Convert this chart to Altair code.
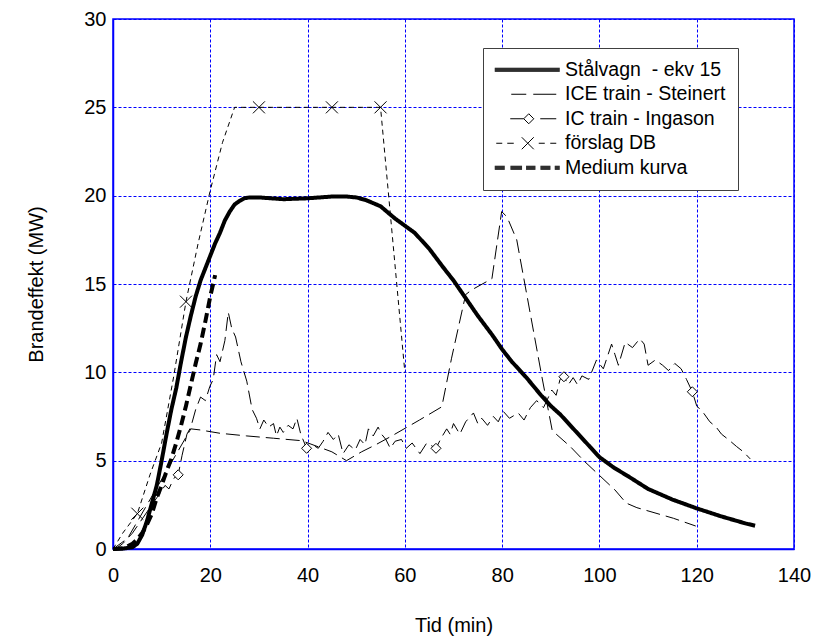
import altair as alt
import pandas as pd

# ---------------- data ----------------
series_names = ["Stålvagn\u00a0 - ekv 15", "ICE train - Steinert", "IC train - Ingason",
                "förslag DB", "Medium kurva"]

steel_t = [0, 2, 4, 5, 6, 7, 8, 9, 10, 11, 12, 13, 14, 15, 16, 17, 18, 19, 20, 21, 22, 23, 24,
           25, 26, 27, 28, 30, 35, 40, 45, 48, 50, 52, 55, 58, 60, 62, 65, 68, 70, 72, 75, 78,
           80, 82, 85, 88, 90, 92, 95, 98, 100, 103, 106, 110, 115, 120, 125, 130, 132]
steel_mw = [0, 0.02, 0.1, 0.3, 0.8, 1.6, 2.6, 3.6, 5.0, 6.5, 7.9, 9.1, 10.6, 12.0, 13.2, 14.3,
            15.2, 15.9, 16.6, 17.3, 17.9, 18.6, 19.1, 19.5, 19.7, 19.85, 19.9, 19.9, 19.8,
            19.85, 19.95, 19.95, 19.9, 19.75, 19.4, 18.7, 18.3, 17.9, 17.0, 15.9, 15.2, 14.4,
            13.2, 12.1, 11.3, 10.6, 9.7, 8.7, 8.1, 7.6, 6.7, 5.8, 5.2, 4.6, 4.1, 3.4, 2.8, 2.3,
            1.85, 1.45, 1.32]

ice_t = [0, 3, 16, 17.9, 22, 27.5, 33, 38.8, 45, 48, 51.1, 54, 57, 63, 67.6, 69.6, 72.5, 73.7,
         77.9, 79.9, 81, 83, 88.1, 90.3, 94, 97, 103.2, 105.5, 107.7, 115.2, 119.8]
ice_mw = [0, 0.6, 6.8, 6.74, 6.55, 6.4, 6.27, 6.13, 5.5, 5.0, 5.5, 5.9, 6.35, 7.3, 8.05, 10.8,
          14.4, 14.66, 15.3, 19.1, 18.8, 17.5, 9.85, 6.7, 5.8, 4.94, 3.34, 2.6, 2.34, 1.74, 1.3]

ic_t = [0, 1, 2, 3, 4, 5, 6, 7, 8, 9, 10, 10.7, 11.5, 12.5, 13.4, 14.2, 15.2, 16, 17, 18, 19,
        19.9, 20.6, 21.3, 22, 23, 23.7, 24.4, 25.2, 26.3, 27.5, 28.6, 29.5, 30.2, 31, 32, 33,
        33.6, 34.3, 35, 36, 37, 37.8, 38.6, 39.8, 41, 42.2, 43.2, 44.2, 45.3, 46.3, 47.3, 48.5,
        49.8, 50.8, 51.8, 52.5, 53.5, 54.5, 55.2, 56.1, 57, 58, 59.3, 60.3, 61.5, 63.1, 64.5,
        66.4, 67.5, 68.6, 69.3, 70, 71.3, 72.5, 74.1, 75, 75.8, 77, 78.2, 79.2, 80.2, 81.5,
        83.3, 84.5, 85.8, 87.1, 88.5, 90.2, 91.1, 91.9, 92.7, 93.6, 94.6, 95.5, 96.4, 97.8,
        99.4, 100.8, 102.5, 103.2, 103.9, 105.3, 106.8, 108.3, 109.2, 110, 111.5, 113, 114.2,
        115.5, 116.8, 117.9, 119.1, 120, 121.4, 122.7, 124, 125.1, 126.5, 128.2, 129.6, 131]
ic_mw = [0, 0.1, 0.3, 0.6, 0.9, 1.3, 1.7, 2.1, 2.5, 2.9, 3.3, 3.6, 3.4, 4.0, 4.2, 5.3, 6.5,
         6.9, 7.9, 8.6, 8.4, 9.2, 9.6, 11.0, 10.6, 11.8, 13.4, 12.5, 12.0, 10.6, 9.5, 7.9, 7.4,
         6.8, 7.3, 6.9, 7.1, 6.4, 6.9, 6.6, 7.0, 6.8, 7.4, 6.5, 5.7, 5.9, 5.7, 6.1, 6.6, 6.2,
         6.5, 5.4, 5.9, 5.6, 6.2, 5.9, 6.8, 6.4, 6.9, 6.5, 6.2, 5.7, 6.1, 6.2, 5.7, 6.0, 5.4,
         6.0, 5.7, 6.3, 6.8, 6.5, 7.1, 6.5, 7.2, 7.7, 7.1, 7.4, 7.0, 7.5, 7.2, 7.8, 7.4, 7.7,
         7.3, 8.0, 8.4, 8.0, 9.0, 8.7, 9.6, 9.75, 9.3, 9.7, 9.3, 9.8, 9.6, 10.7, 10.2, 11.6,
         11.0, 10.4, 11.7, 11.4, 11.9, 11.6, 10.4, 10.7, 10.4, 10.1, 10.5, 10.2, 9.6, 8.9, 8.1,
         7.7, 7.2, 6.9, 6.5, 6.2, 5.8, 5.5, 5.1]

db_t = [0, 2, 5, 7.6, 10, 12.5, 15, 17.5, 20, 22.5, 25, 30, 45, 55, 60]
db_mw = [0, 0.9, 2.0, 4.2, 6.0, 9.8, 14.0, 17.3, 20.3, 23.0, 25.0, 25, 25, 25, 10]

medium_t = [0, 1, 2, 3, 4, 5, 6, 7, 8, 9, 10, 11, 12, 13, 14, 15, 16, 17, 18, 19, 20, 21]
medium_mw = [0, 0.01, 0.05, 0.15, 0.3, 0.55, 0.9, 1.4, 2.0, 2.9, 3.6, 4.4, 5.1, 6.0, 7.0, 8.1,
             9.3, 10.5, 11.6, 12.9, 14.3, 15.5]

ic_mark_t = [13.4, 39.8, 66.4, 92.7, 119.1]
ic_mark_mw = [4.2, 5.7, 5.7, 9.75, 8.9]
db_mark_t = [5, 15, 30, 45, 55]
db_mark_mw = [2.0, 14.0, 25.0, 25.0, 25.0]

x_ticks = [0, 20, 40, 60, 80, 100, 120, 140]
y_ticks = [0, 5, 10, 15, 20, 25, 30]

# ---------------- tables ----------------
rows = []
for name, ts, vs in zip(series_names,
                        [steel_t, ice_t, ic_t, db_t, medium_t],
                        [steel_mw, ice_mw, ic_mw, db_mw, medium_mw]):
    for t, v in zip(ts, vs):
        rows.append({"t": t, "mw": v, "series": name})
lines_df = pd.DataFrame(rows)

ic_marks_df = pd.DataFrame({"t": ic_mark_t, "mw": ic_mark_mw})
db_marks_df = pd.DataFrame({"t": db_mark_t, "mw": db_mark_mw})
legend_df = pd.DataFrame({"series": series_names})


# ---------------- legend key glyphs (pixel-unit SVG paths) ----------------
def seg(x1, x2, thick=False):
    ys = [-1.5, -0.5, 0.5, 1.5] if thick else [0]
    return "".join(f"M{x1},{y}H{x2}" for y in ys)


key_steel = seg(-32.5, 32.5, True)
key_ice = seg(-16, -1) + seg(6, 29)
key_ic = seg(-17, -3.5) + "M1.5,-5L6.5,0L1.5,5L-3.5,0Z" + seg(13, 29)
key_db = (seg(-31, -25) + seg(-20, -13.5) + "M-5.5,-6L6.5,6M6.5,-6L-5.5,6"
          + seg(11.5, 17.5) + seg(23, 29))
key_medium = (seg(-32.5, -22.5, True) + seg(-16.8, -5.2, True) + seg(-1.2, 8.2, True)
              + seg(13.2, 23.2, True) + seg(27.5, 32.5, True))

FONT = "Liberation Sans"

x_enc = alt.X("t:Q", scale=alt.Scale(domain=[0, 140], nice=False),
              axis=alt.Axis(values=x_ticks, title="Tid (min)", labelPadding=16,
                            titlePadding=30, grid=True, labelFlush=False))
y_enc = alt.Y("mw:Q", scale=alt.Scale(domain=[0, 30], nice=False),
              axis=alt.Axis(values=y_ticks, title="Brandeffekt (MW)", labelPadding=7,
                            titlePadding=37, grid=True, labelFlush=False))

base = alt.Chart(lines_df)


def line_layer(names, dash, width):
    return base.mark_line(color="black", strokeCap="butt", strokeDash=dash,
                          strokeWidth=width).encode(
        x=x_enc, y=y_enc, detail="series:N"
    ).transform_filter(alt.FieldOneOfPredicate(field="series", oneOf=names))


steel_line = line_layer([series_names[0]], [1, 0], 4)
ice_ic_lines = line_layer([series_names[1], series_names[2]], [14, 6], 1)
db_line = line_layer([series_names[3]], [5, 4], 1)
medium_line = line_layer([series_names[4]], [10, 5], 4)

ic_pts = alt.Chart(ic_marks_df).mark_point(shape="diamond", filled=True, fill="white",
                                           stroke="black", strokeWidth=1, size=100,
                                           opacity=1).encode(x="t:Q", y="mw:Q")
db_pts = alt.Chart(db_marks_df).mark_point(shape="M-1,-1L1,1M1,-1L-1,1", filled=True,
                                           fill="white", stroke="black", strokeWidth=1,
                                           size=144, opacity=1).encode(x="t:Q", y="mw:Q")

leg = alt.Legend(title=None, orient="none", legendX=370, legendY=29, symbolSize=4,
                 symbolStrokeColor="black", symbolStrokeWidth=1, symbolOpacity=1,
                 symbolOffset=22.5, labelOffset=28,
                 labelFont=FONT, labelFontSize=19.5, labelColor="black", padding=12,
                 rowPadding=3.5, strokeColor="#404040", fillColor="white", labelLimit=300)

legend_layer = alt.Chart(legend_df).mark_point(filled=False, color="black", strokeWidth=1,
                                               opacity=1).encode(
    shape=alt.Shape("series:N", scale=alt.Scale(
        domain=series_names,
        range=[key_steel, key_ice, key_ic, key_db, key_medium]), legend=leg),
).transform_filter("false")

chart = alt.layer(ice_ic_lines, db_line, steel_line, medium_line, ic_pts, db_pts,
                  legend_layer).properties(
    width=681, height=530,
    autosize=alt.AutoSizeParams(type="none"),
    padding={"left": 113, "top": 19, "right": 21, "bottom": 93},
    background="white",
).configure_view(
    stroke="#0000ff", strokeWidth=1.5
).configure_axis(
    domainColor="#0000ff", domainWidth=1.5, gridColor="#0000ff", gridDash=[3, 2],
    gridWidth=1, gridOpacity=1, ticks=False, labelFont=FONT, labelFontSize=20,
    labelColor="black", titleFont=FONT, titleFontSize=20, titleFontWeight="normal",
    titleColor="black",
)

chart.save("out.html", embed_options={"renderer": "svg", "actions": False})
